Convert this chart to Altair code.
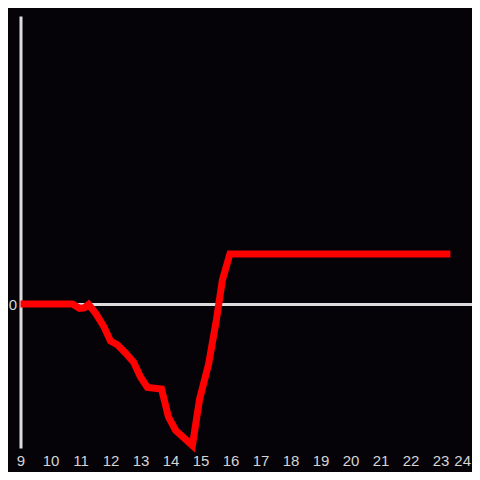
import altair as alt
import pandas as pd

# Series
hours = [9.0, 10.73, 10.97, 11.13, 11.27, 11.5, 11.77, 12.0, 12.23, 12.5,
         12.77, 13.0, 13.23, 13.7, 13.93, 14.17, 14.73, 14.97, 15.27, 15.53,
         15.73, 15.98, 23.33]
values = [0.0, 0.0, -0.09, -0.08, -0.01, -0.19, -0.46, -0.77, -0.85, -1.02,
          -1.21, -1.52, -1.74, -1.77, -2.35, -2.63, -2.95, -1.98, -1.25, -0.33,
          0.5, 1.04, 1.04]
x_ticks = list(range(9, 25))
y_ticks = [0]

df = pd.DataFrame({"t": hours, "v": values})

label_color = "#d4d4d4"
bg = "#050308"

chart = alt.Chart(df).mark_line(color="#ff0000", strokeWidth=7).encode(
    x=alt.X("t:Q",
            scale=alt.Scale(domain=[9, 9 + 451.5 / 30], nice=False, zero=False),
            axis=alt.Axis(values=x_ticks, title=None, domain=False, ticks=False,
                          grid=False, labelColor=label_color, labelFontSize=15,
                          labelFont="Liberation Sans", labelPadding=5,
                          labelFlush=False, labelOverlap=False,
                          labelAlign=alt.expr("datum.value == 24 ? 'right' : 'center'"))),
    y=alt.Y("v:Q",
            scale=alt.Scale(domain=[-3, 6], nice=False, zero=False),
            axis=alt.Axis(values=y_ticks, title=None, domain=True, domainColor="#dddddd",
                          domainWidth=3, ticks=False, grid=True, gridColor="#dddddd",
                          gridWidth=3, gridOpacity=1, labelColor=label_color,
                          labelFontSize=15, labelFont="Liberation Sans",
                          labelPadding=4)),
).properties(
    width=451.5,
    height=432,
    background=bg,
    padding={"left": 12.5, "top": 8, "right": 0, "bottom": 24},
    autosize="none",
).configure_view(stroke=None)

chart.save("out.html", embed_options={"renderer": "svg", "actions": False})
